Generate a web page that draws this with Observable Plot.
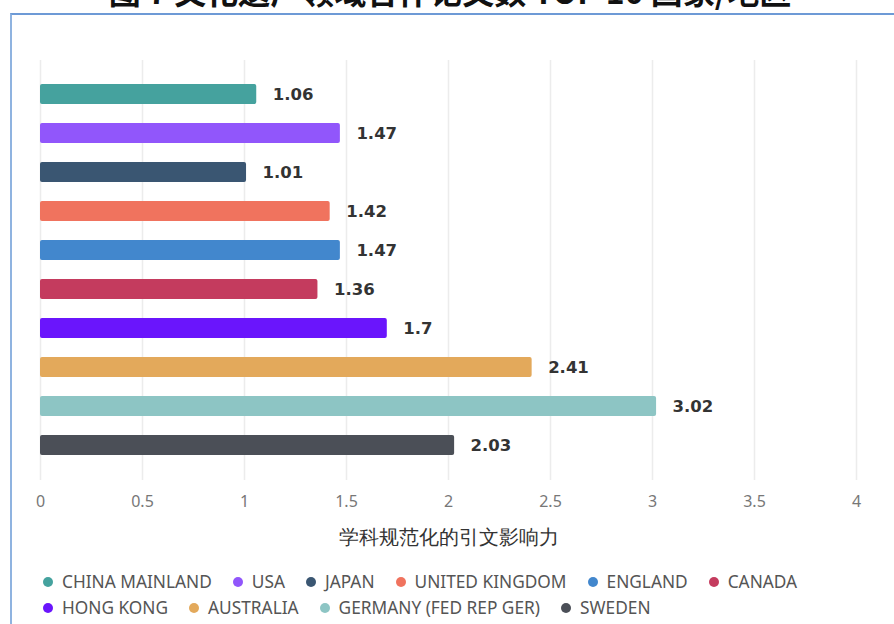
<!DOCTYPE html>
<html><head><meta charset="utf-8">
<script src="https://cdn.jsdelivr.net/npm/d3@7"></script>
<script src="https://cdn.jsdelivr.net/npm/@observablehq/plot@0.6"></script>
<style>
body{margin:0;background:#fff;}
#wrap{position:relative;width:894px;height:624px;overflow:hidden;font-family:"Noto Sans",sans-serif;}
#title{position:absolute;left:0;width:900px;top:-26px;line-height:32px;text-align:center;font-family:"Noto Sans CJK SC";font-weight:bold;font-size:32px;color:#111;white-space:nowrap;}
#box{position:absolute;left:10px;top:13px;width:900px;height:640px;border-top:2px solid #6d9ad6;border-left:2px solid #8fb3e0;}
#chart{position:absolute;left:0;top:0;}
#legend{position:absolute;left:43px;top:570px;width:820px;display:flex;flex-wrap:wrap;row-gap:2px;column-gap:21px;font-size:17.3px;color:#555;}
.item{display:flex;align-items:center;gap:9px;line-height:24px;}
.dot{width:10px;height:10px;border-radius:50%;}
</style>
</head><body>
<div id="wrap">
  <div id="title"></div>
  <div id="box"></div>
  <div id="chart"></div>
  <div id="legend"></div>
</div>
<script>
const titleText = "图 7 文化遗产领域合作论文数 TOP 10 国家/地区";
const countries = ["CHINA MAINLAND","USA","JAPAN","UNITED KINGDOM","ENGLAND","CANADA","HONG KONG","AUSTRALIA","GERMANY (FED REP GER)","SWEDEN"];
const values = [1.06,1.47,1.01,1.42,1.47,1.36,1.7,2.41,3.02,2.03];
const colors = ["#45a29e","#9156fb","#3a5672","#f0735e","#4287cd","#c43b5e","#6a15fc","#e3a95b","#8dc5c4","#4b4f57"];
const xTicks = [0,0.5,1,1.5,2,2.5,3,3.5,4];
const xLabel = "学科规范化的引文影响力";

document.getElementById("title").textContent = titleText;
const data = countries.map((c,i)=>({country:c, value:values[i]}));

const chart = Plot.plot({
  width: 894, height: 560,
  marginLeft: 40, marginRight: 38, marginTop: 60, marginBottom: 80,
  style: {fontFamily: "Noto Sans", background: "transparent"},
  x: {domain: [0,4]},
  y: {domain: countries, paddingInner: 0.48, paddingOuter: 0.56, axis: null},
  color: {domain: countries, range: colors},
  marks: [
    Plot.ruleX(xTicks, {stroke: "#ececec", strokeWidth: 1.5}),
    Plot.barX(data, {x: "value", y: "country", fill: "country", rx: 2}),
    Plot.text(data, {x: "value", y: "country", text: d => String(d.value), textAnchor: "start", dx: 16, fontFamily: "DejaVu Sans", fontWeight: "bold", fontSize: 16.5, fill: "#333"}),
    Plot.axisX({ticks: xTicks, tickFormat: d => String(d), tickSize: 0, tickPadding: 15, fontSize: 16, fill: "#777", label: null}),
    Plot.text([xLabel], {text: d => d, frameAnchor: "bottom", dy: 63, fontSize: 20, fill: "#333"})
  ]
});
document.getElementById("chart").appendChild(chart);

const legend = document.getElementById("legend");
countries.forEach((c,i)=>{
  const it = document.createElement("div"); it.className = "item";
  const dot = document.createElement("span"); dot.className = "dot"; dot.style.background = colors[i];
  const t = document.createElement("span"); t.textContent = c;
  it.appendChild(dot); it.appendChild(t); legend.appendChild(it);
});
</script>
</body></html>
